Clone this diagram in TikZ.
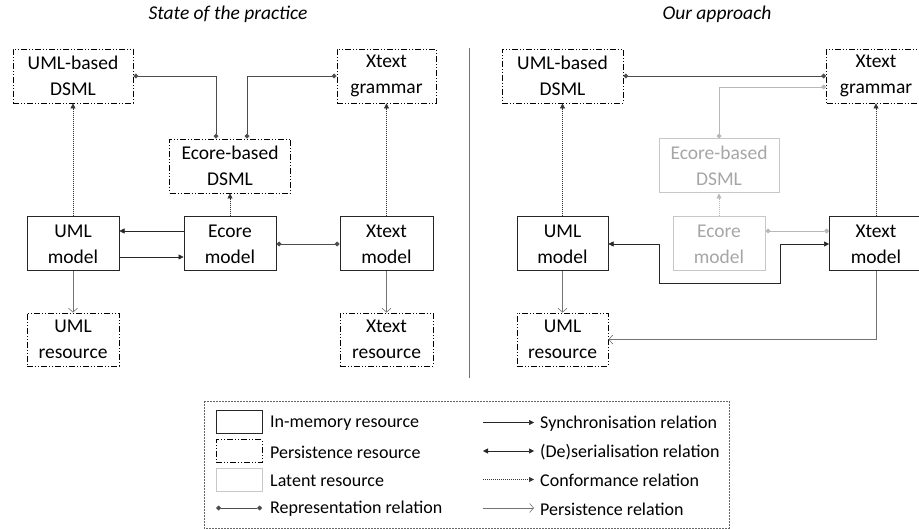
\documentclass[tikz,border=0pt]{standalone}
\usepackage{fontspec}
\setmainfont{Carlito}
\usetikzlibrary{arrows.meta}

\newcommand{\boxfont}{\fontsize{19.5}{26}\selectfont}
\newcommand{\legfont}{\fontsize{18}{22}\selectfont}

\tikzset{
    memres/.style={draw=black!85, line width=1pt, minimum height=54pt, inner sep=0pt, align=center, font=\boxfont},
    persres/.style={memres, draw=black, line width=0.8pt, dash pattern=on 6pt off 2pt on 1pt off 2pt on 1pt off 2pt},
    latres/.style={memres, draw=black!22, text=black!35},
    reprel/.style={draw=black!70, line width=0.6pt, {Diamond[length=5pt,width=5pt]}-{Diamond[length=5pt,width=5pt]}},
    latrel/.style={reprel, draw=black!28, {Diamond[length=5pt,width=5pt,black!28]}-{Diamond[length=5pt,width=5pt,black!28]}},
    syncrel/.style={draw=black!85, line width=0.5pt, -{Triangle[length=5pt,width=5pt]}},
    deserrel/.style={syncrel, {Triangle[length=5pt,width=5pt]}-{Triangle[length=5pt,width=5pt]}},
    confrel/.style={draw=black!80, line width=0.6pt, dash pattern=on 1pt off 1pt, -{Triangle[length=5pt,width=5pt]}},
    latconf/.style={confrel, draw=black!28, -{Triangle[length=5pt,width=5pt,black!28]}},
    persrel/.style={draw=black!55, line width=0.6pt, -{Straight Barb[length=4pt,width=9pt]}},
    legtext/.style={anchor=west, font=\legfont, inner sep=0pt}
}

\begin{document}
\begin{tikzpicture}[x=1pt, y=-1pt]
    \useasboundingbox (0,0) rectangle (919,529);

    % Titles
    \node[font=\boxfont\itshape] (titleL) at (228,14) {State of the practice};
    \node[font=\boxfont\itshape] (titleR) at (717,14) {Our approach};
    \draw[black!55, line width=0.8pt] (469,48) -- (469,378);

    % State of the practice
    \node[persres, minimum width=120pt] (umldsmlL) at (73,76) {UML-based\\DSML};
    \node[persres, minimum width=99pt] (xgramL) at (386.5,76) {Xtext\\grammar};
    \node[persres, minimum width=121pt] (ecdsmlL) at (230,166) {Ecore-based\\DSML};
    \node[memres, minimum width=92pt] (umlmodL) at (73,244) {UML\\model};
    \node[memres, minimum width=92pt] (ecmodL) at (230,244) {Ecore\\model};
    \node[memres, minimum width=93pt] (xmodL) at (386.5,244) {Xtext\\model};
    \node[persres, minimum width=92pt, minimum height=53pt] (umlresL) at (73,339.5) {UML\\resource};
    \node[persres, minimum width=93pt, minimum height=53pt] (xresL) at (386.5,339.5) {Xtext\\resource};

    \draw[reprel] (umldsmlL.east) -| ([xshift=-14pt]ecdsmlL.north);
    \draw[reprel] (xgramL.west) -| ([xshift=17pt]ecdsmlL.north);
    \draw[confrel] (umlmodL.north) -- (umldsmlL.south);
    \draw[confrel] (ecmodL.north) -- (ecdsmlL.south);
    \draw[confrel] (xmodL.north) -- (xgramL.south);
    \draw[syncrel] ([yshift=13pt]ecmodL.west) -- ([yshift=13pt]umlmodL.east);
    \draw[syncrel] ([yshift=-13pt]umlmodL.east) -- ([yshift=-13pt]ecmodL.west);
    \draw[reprel] (ecmodL.east) -- (xmodL.west);
    \draw[persrel] (umlmodL.south) -- (umlresL.north);
    \draw[persrel] (xmodL.south) -- (xresL.north);

    % Our approach
    \node[persres, minimum width=121pt] (umldsmlR) at (562.5,76) {UML-based\\DSML};
    \node[persres, minimum width=99pt] (xgramR) at (876,76) {Xtext\\grammar};
    \node[latres, minimum width=120pt] (ecdsmlR) at (719,166) {Ecore-based\\DSML};
    \node[memres, minimum width=91pt] (umlmodR) at (562.5,244) {UML\\model};
    \node[latres, minimum width=92pt] (ecmodR) at (719,244) {Ecore\\model};
    \node[memres, minimum width=93pt] (xmodR) at (876,244) {Xtext\\model};
    \node[persres, minimum width=91pt, minimum height=53pt] (umlresR) at (562.5,339.5) {UML\\resource};
    \coordinate (serL) at (659,283);
    \coordinate (serR) at (780,283);

    \draw[reprel] (umldsmlR.east) -- (xgramR.west);
    \draw[latrel] ([yshift=-11pt]xgramR.west) -| (ecdsmlR.north);
    \draw[latconf] (ecmodR.north) -- (ecdsmlR.south);
    \draw[latrel] ([yshift=13pt]ecmodR.east) -- ([yshift=13pt]xmodR.west);
    \draw[confrel] (umlmodR.north) -- (umldsmlR.south);
    \draw[confrel] (xmodR.north) -- (xgramR.south);
    \draw[deserrel] (umlmodR.east) -| (serL) -- (serR) |- (xmodR.west);
    \draw[persrel] (umlmodR.south) -- (umlresR.north);
    \draw[persrel] (xmodR.south) |- (umlresR.east);

    % Legend
    \draw[black!60, line width=0.6pt, dash pattern=on 2pt off 1pt] (204,401) rectangle (729,528);
    \node[memres, minimum width=46pt, minimum height=23pt] (legmem) at (239,422.5) {};
    \node[persres, minimum width=46pt, minimum height=23pt] (legpers) at (239,451) {};
    \node[latres, minimum width=46pt, minimum height=23pt] (leglat) at (239,479.5) {};
    \coordinate (legrepA) at (216,508);
    \coordinate (legrepB) at (262,508);
    \draw[reprel] (legrepA) -- (legrepB);
    \node[legtext] at (270,423.5) {In-memory resource};
    \node[legtext] at (270,452) {Persistence resource};
    \node[legtext] at (270,480.5) {Latent resource};
    \node[legtext] at (270,509) {Representation relation};

    \coordinate (legsyncA) at (483,422.5);
    \coordinate (legsyncB) at (534,422.5);
    \coordinate (legserA) at (483,451);
    \coordinate (legserB) at (534,451);
    \coordinate (legconfA) at (483,479.5);
    \coordinate (legconfB) at (534,479.5);
    \coordinate (legpersA) at (483,508);
    \coordinate (legpersB) at (534,508);
    \draw[syncrel] (legsyncA) -- (legsyncB);
    \draw[deserrel] (legserA) -- (legserB);
    \draw[confrel] (legconfA) -- (legconfB);
    \draw[persrel] (legpersA) -- (legpersB);
    \node[legtext] at (540,423.5) {Synchronisation relation};
    \node[legtext] at (540,452) {(De)serialisation relation};
    \node[legtext] at (540,480.5) {Conformance relation};
    \node[legtext] at (540,509) {Persistence relation};
\end{tikzpicture}
\end{document}
